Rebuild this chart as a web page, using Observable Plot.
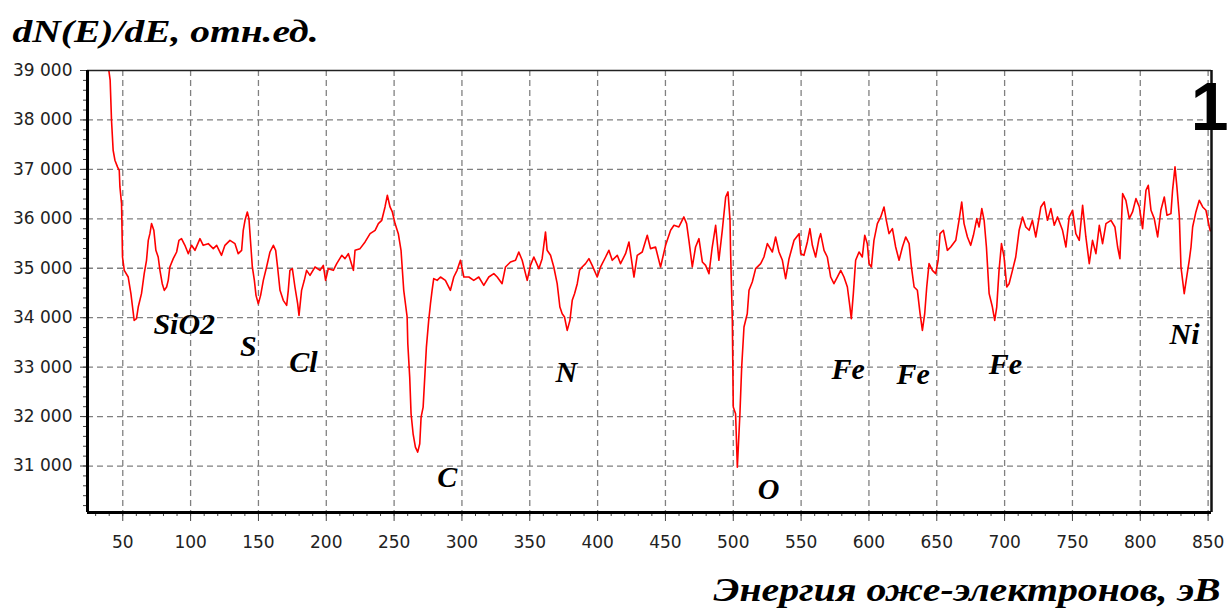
<!DOCTYPE html>
<html><head><meta charset="utf-8">
<script src="https://cdn.jsdelivr.net/npm/d3@7"></script>
<script src="https://cdn.jsdelivr.net/npm/@observablehq/plot@0.6"></script>
<style>body{margin:0;background:#fff;}</style>
</head><body><div id="chart"></div>
<script>
// Energy (eV) and dN(E)/dE values
const energy = [39.0,39.7,40.7,41.7,42.9,44.2,46.1,47.4,47.9,49.1,49.8,51.1,54.0,56.0,57.2,58.4,60.1,61.4,63.8,65.8,67.5,68.8,70.0,71.2,72.9,74.4,76.1,77.4,79.1,80.6,82.3,83.5,84.7,87.2,89.7,91.4,93.3,95.8,98.3,
100.7,103.2,106.9,109.3,113.0,116.7,119.2,122.8,125.3,129.0,132.7,135.1,137.6,138.8,140.1,141.8,143.0,144.2,145.5,147.0,148.2,149.9,151.6,153.6,156.0,158.5,161.0,162.7,164.1,165.9,168.3,170.8,172.0,173.2,175.0,176.9,178.9,179.9,181.8,183.8,185.5,188.0,191.7,195.4,197.8,199.5,
201.5,205.2,207.7,211.4,213.8,216.3,220.0,221.2,224.9,228.6,232.3,236.0,238.4,240.9,243.3,245.0,247.0,248.7,250.7,253.1,255.1,257.1,259.6,260.1,261.5,262.5,264.0,265.7,267.4,268.9,269.9,271.4,272.6,273.8,275.5,276.8,278.0,279.2,281.7,284.2,287.8,291.5,294.0,296.4,298.9,
301.4,305.1,308.7,312.4,316.1,319.8,323.5,326.0,329.6,332.1,335.8,339.5,341.9,344.4,348.1,350.5,353.0,356.7,359.1,361.6,362.8,365.3,367.7,370.2,372.2,373.9,375.6,377.6,379.6,381.3,383.0,385.0,386.7,388.6,391.1,393.6,396.0,399.7,
402.2,405.9,408.3,410.8,414.5,416.9,420.6,423.1,426.8,429.2,432.9,436.6,439.0,442.7,446.4,450.1,453.8,456.3,459.9,463.6,465.6,467.3,469.8,472.2,474.7,477.2,479.6,482.1,484.5,487.0,489.4,491.9,494.4,496.1,497.6,498.0,499.3,
500.0,501.7,503.0,504.9,506.2,507.9,510.3,511.6,514.0,516.5,520.2,522.6,525.1,528.8,531.2,533.7,536.2,538.6,541.1,544.8,548.5,549.7,552.1,554.6,556.5,558.3,560.7,563.2,564.4,566.9,569.3,571.8,574.2,576.7,579.2,581.6,584.1,586.0,587.0,588.5,590.2,592.7,595.1,596.9,598.8,
600.1,601.8,603.7,606.2,608.7,611.1,612.8,614.8,617.3,619.7,622.2,624.7,627.1,629.6,631.3,633.3,635.7,637.7,639.4,641.1,642.6,644.3,646.8,649.2,651.0,652.4,654.9,657.8,660.3,664.0,666.4,668.4,670.1,672.6,675.0,677.0,679.5,681.2,683.2,684.9,686.6,688.6,691.0,692.7,694.2,695.9,697.7,699.6,
701.6,703.3,705.8,708.2,710.7,713.2,715.6,718.1,720.5,723.0,725.5,726.7,729.2,731.6,734.1,736.6,739.0,742.7,745.2,747.6,750.1,752.5,755.0,757.5,759.9,762.4,764.8,767.3,769.8,772.2,774.7,778.4,781.3,783.3,785.0,787.0,789.4,791.9,794.3,796.8,799.3,
801.7,804.2,805.9,807.9,810.3,812.8,815.2,817.7,819.7,822.6,823.8,825.6,827.0,828.8,830.0,832.4,834.2,836.1,837.4,838.6,841.0,843.5,846.0,848.4,850.9,851.6];
const signal = [39400,39006,38804,37994,37387,37185,37050,36982,36645,36307,35228,34958,34823,34486,34216,33946,33980,34216,34486,34891,35161,35565,35700,35903,35768,35363,35228,34958,34688,34553,34621,34756,35026,35194,35329,35565,35599,35464,35295,
35464,35363,35599,35464,35498,35397,35464,35262,35464,35565,35498,35295,35363,35768,35970,36139,36004,35532,35026,34756,34452,34284,34452,34756,35026,35329,35464,35363,35026,34553,34351,34250,34553,34958,34992,34621,34284,34047,34553,34756,34958,34857,35026,34958,35059,34756,
34992,34958,35093,35262,35194,35295,34958,35363,35397,35532,35700,35768,35903,35970,36240,36476,36240,36139,35903,35700,35363,34554,34014,33474,32799,32057,31652,31382,31281,31450,31990,32192,32799,33406,33946,34283,34554,34790,34756,34823,34756,34554,34823,34958,35161,
34823,34823,34756,34823,34655,34823,34891,34823,34688,35026,35127,35161,35329,35161,34756,35059,35228,34992,35194,35734,35363,35262,35026,34688,34216,34081,34014,33744,33946,34351,34486,34688,34958,35026,35093,35194,35059,34823,
35026,35228,35363,35161,35262,35093,35295,35532,34823,35262,35329,35667,35397,35430,35026,35464,35768,35869,35835,36038,35903,35565,35026,35430,35599,35127,35059,34891,35430,35869,35161,35768,36442,36544,35970,35363,33946,
32192,32057,30978,32057,33002,33811,34081,34554,34722,34992,35093,35228,35498,35329,35633,35329,35161,34790,35194,35565,35700,35295,35262,35532,35801,35464,35228,35599,35700,35363,35228,34823,34688,34823,34958,34823,34621,34216,33980,34486,35161,35329,35228,35667,35498,
35093,35026,35565,35903,36038,36240,35970,35700,35801,35430,35161,35430,35633,35498,35026,34621,34554,34081,33744,34081,34621,35093,34958,34891,35161,35700,35768,35363,35430,35565,35970,36341,35903,35633,35464,35667,36004,35835,36206,35970,35430,34486,34216,33946,34216,34958,35498,35228,
34621,34688,34958,35228,35768,36038,35835,35768,35970,35633,36038,36240,36341,35970,36206,35869,36038,35768,35430,36038,36173,35700,35565,36274,35633,35093,35565,35296,35869,35498,35903,35970,35835,35430,35194,36510,36375,36004,36139,36409,36240,
35801,36577,36679,36173,36004,35633,36173,36442,36071,36105,36577,37050,36645,36038,35026,34486,34823,35160,35430,35835,36139,36375,36240,36173,35835,35760];

const xTicks = [50,100,150,200,250,300,350,400,450,500,550,600,650,700,750,800,850];
const yTicks = [31000,32000,33000,34000,35000,36000,37000,38000,39000];
const yTickLabels = ["31 000","32 000","33 000","34 000","35 000","36 000","37 000","38 000","39 000"];
const peakLabels = ["SiO2","S","Cl","C","N","O","Fe","Fe","Fe","Ni"];
const peakE = [95.3,142.5,183.1,289.2,377.0,526.0,584.7,632.6,700.5,832.6];
const peakV = [33865,33420,33096,30768,32894,30525,32954,32853,33055,33663];
const titleText = "dN(E)/dE, отн.ед.";
const xTitle = "Энергия оже-электронов, эВ";
const curveTag = "1";
const xDomain = [24, 852.5];
const yDomain = [30060, 39000];

const series = energy.map((e, i) => ({e, v: signal[i]}));
const peaks = peakLabels.map((t, i) => ({t, e: peakE[i], v: peakV[i]}));
const xMinor = d3.range(30, 853, 10);
const yMinor = d3.range(30200, 39001, 200);
const yLab = new Map(yTicks.map((t, i) => [t, yTickLabels[i]]));

const serif = "'Liberation Serif', 'Times New Roman', serif";
const grid = {stroke: "#808080", strokeOpacity: 1, strokeWidth: 1.3, strokeDasharray: "6,4"};

const chart = Plot.plot({
  width: 1230, height: 612,
  marginLeft: 87, marginRight: 19, marginTop: 70, marginBottom: 100,
  style: {background: "#fff", fontFamily: "'DejaVu Sans', sans-serif", fontSize: "17px", color: "#222"},
  x: {domain: xDomain, label: null},
  y: {domain: yDomain, label: null},
  marks: [
    Plot.gridX(xTicks, grid),
    Plot.gridY(yTicks.slice(0, -1), grid),
    Plot.axisX(xMinor, {tickSize: 4, tickFormat: () => "", stroke: "#444", label: null}),
    Plot.axisX(xTicks, {tickSize: 9, tickPadding: 14, stroke: "#444", tickFormat: d => String(d), label: null}),
    Plot.axisY(yMinor, {tickSize: 4, tickFormat: () => "", stroke: "#444", label: null}),
    Plot.axisY(yTicks, {tickSize: 7, tickPadding: 8, stroke: "#444", tickFormat: d => yLab.get(d), label: null}),
    Plot.line(series, {x: "e", y: "v", stroke: "#ff0000", strokeWidth: 1.6, clip: true}),
    Plot.ruleY([yDomain[1]], {stroke: "#222", strokeWidth: 1.5}),
    Plot.ruleX([xDomain[1]], {stroke: "#111", strokeWidth: 2.5}),
    Plot.ruleX([xDomain[0]], {stroke: "#000", strokeWidth: 3}),
    Plot.ruleY([yDomain[0]], {stroke: "#000", strokeWidth: 3}),
    Plot.text(peaks, {x: "e", y: "v", text: "t", fontFamily: serif, fontWeight: "bold", fontStyle: "italic", fontSize: 30, fill: "#000", lineAnchor: "middle"}),
    Plot.text([titleText], {frameAnchor: "top-left", dx: -75, dy: -39, textAnchor: "start", lineAnchor: "middle", fontFamily: serif, fontWeight: "bold", fontStyle: "italic", fontSize: 32, fill: "#000"}),
    Plot.text([xTitle], {frameAnchor: "bottom-right", dx: 9, dy: 78, textAnchor: "end", lineAnchor: "middle", fontFamily: serif, fontWeight: "bold", fontStyle: "italic", fontSize: 34, fill: "#000"}),
    Plot.text([curveTag], {frameAnchor: "top-right", dx: 17, dy: 38, textAnchor: "end", lineAnchor: "middle", fontFamily: "'Liberation Sans', Arial, sans-serif", fontWeight: "bold", fontSize: 68, fill: "#000"})
  ]
});
// widen the italic headings to the reference's measured widths
d3.select(chart).selectAll("text").each(function() {
  const t = this.textContent;
  if (t === titleText) d3.select(this).attr("textLength", 306).attr("lengthAdjust", "spacingAndGlyphs");
  if (t === xTitle) d3.select(this).attr("textLength", 507).attr("lengthAdjust", "spacingAndGlyphs");
});
document.getElementById("chart").append(chart);
</script>
</body></html>
